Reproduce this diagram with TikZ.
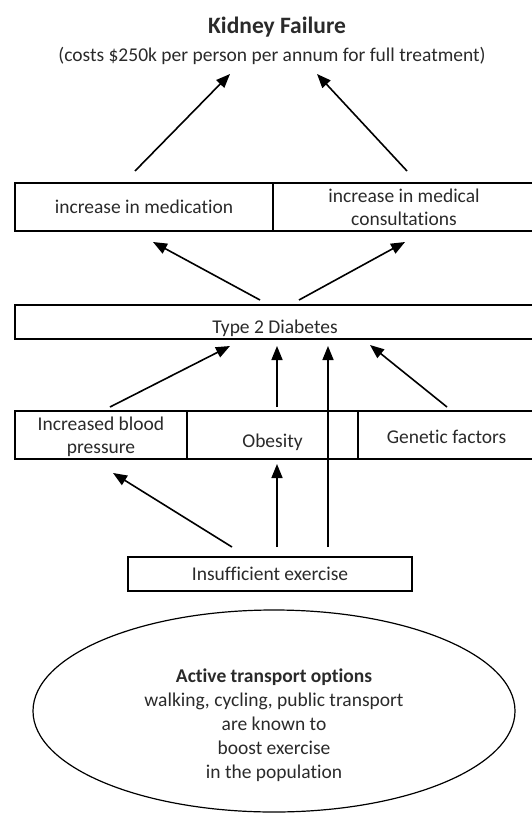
\documentclass[tikz,border=0pt]{standalone}
\usepackage{fontspec}
\setmainfont{Carlito}[Ligatures=NoCommon]
\usetikzlibrary{arrows.meta,shapes.geometric}
\definecolor{txt}{HTML}{2A2A2A}
\begin{document}
\begin{tikzpicture}[x=1pt,y=-1pt,
  box/.style={draw=black, line width=1.3pt, inner sep=0pt, align=center,
    font=\fontsize{19.5}{23}\selectfont, text=txt},
  lbl/.style={inner sep=0pt, align=center, font=\fontsize{19.5}{24}\selectfont, text=txt},
  arr/.style={line width=1.6pt, -{Triangle[length=14pt,width=11pt]}},
]
\useasboundingbox (0,0) rectangle (532,813);
\fill[white] (0,0) rectangle (532,813);
\clip (0,0) rectangle (532,813);

% title
\node[lbl, font=\bfseries\fontsize{23.5}{27}\selectfont] (title) at (277,27) {Kidney Failure};
\node[lbl] (sub) at (272,56) {(costs \$250k per person per annum for full treatment)};

% top row
\node[box, minimum width=258pt, minimum height=48pt] (med) at (144,207) {increase in medication};
\node[box, minimum width=262pt, minimum height=48pt] (cons) at (404,207) {increase in medical\\consultations};

% diabetes
\node[box, minimum width=520pt, minimum height=34pt, text height=24pt, text depth=2pt] (t2d) at (275,322) {Type 2 Diabetes};

% middle row
\node[box, minimum width=172pt, minimum height=48pt, text height=38pt, text depth=2pt] (ibp) at (101,435) {Increased blood\\pressure};
\node[box, minimum width=171pt, minimum height=48pt, text height=26pt, text depth=2pt] (obes) at (272.5,435) {Obesity};
\node[box, minimum width=177pt, minimum height=48pt, text height=18pt, text depth=2pt] (gen) at (446.5,435) {Genetic factors};

% insufficient exercise
\node[box, minimum width=284pt, minimum height=34pt] (ins) at (270,574) {Insufficient exercise};

% ellipse
\node[ellipse, draw=black, line width=1.2pt, minimum width=482pt, minimum height=202pt, inner sep=0pt] (ell) at (274,711) {};
\node[lbl] (elltext) at (274,725) {{\bfseries Active transport options}\\walking, cycling, public transport\\are known to\\boost exercise\\in the population};

% arrow end points
\coordinate (a1s) at (135,171); \coordinate (a1e) at (230,74);
\coordinate (a2s) at (407,171); \coordinate (a2e) at (317,74);
\coordinate (a3s) at (260,300); \coordinate (a3e) at (153,242);
\coordinate (a4s) at (299,300); \coordinate (a4e) at (405,242);
\coordinate (a5s) at (110,407); \coordinate (a5e) at (230,346);
\coordinate (a6s) at (277,407); \coordinate (a6e) at (277,346);
\coordinate (a7s) at (328,547); \coordinate (a7e) at (328,346);
\coordinate (a8s) at (447,407); \coordinate (a8e) at (370,345);
\coordinate (a9s) at (232,547); \coordinate (a9e) at (113,473);
\coordinate (a10s) at (277,547); \coordinate (a10e) at (277,464);

\draw[arr] (a1s) -- (a1e);
\draw[arr] (a2s) -- (a2e);
\draw[arr] (a3s) -- (a3e);
\draw[arr] (a4s) -- (a4e);
\draw[arr] (a5s) -- (a5e);
\draw[arr] (a6s) -- (a6e);
\draw[arr] (a7s) -- (a7e);
\draw[arr] (a8s) -- (a8e);
\draw[arr] (a9s) -- (a9e);
\draw[arr] (a10s) -- (a10e);
\end{tikzpicture}
\end{document}
